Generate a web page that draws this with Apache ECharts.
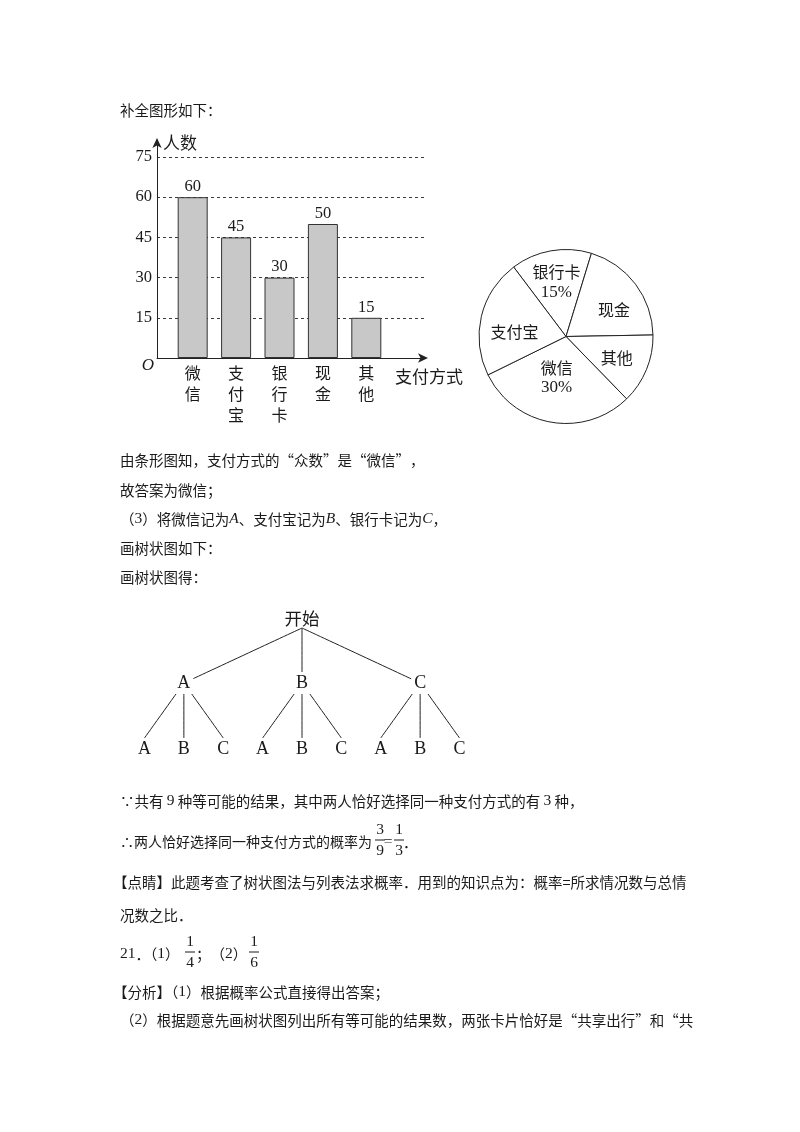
<!DOCTYPE html>
<html><head><meta charset="utf-8">
<script src="https://cdn.jsdelivr.net/npm/echarts@6/dist/echarts.min.js"></script>
<style>html,body{margin:0;padding:0;background:#fff;}#c{width:800px;height:1132px;}</style>
</head><body><div id="c"></div>
<script>
// ---- data ----
const categories = ['微信', '支付宝', '银行卡', '现金', '其他'];
const counts = [60, 45, 30, 50, 15];
const yMin = 0, yMax = 75, yStep = 15;
const pieNames = ['银行卡', '现金', '其他', '微信', '支付宝'];
const piePercents = [15, 20, 13, 30, 22];
const pieLabeled = ['银行卡', '微信'];
const treeRoot = '开始';
const firstPick = ['A', 'B', 'C'];
const secondPick = ['A', 'B', 'C'];

const CJK = '"Noto Sans CJK SC"';
const SERIF = '"Liberation Serif"';
const INK = '#1a1a1a';
const CLEAR = 'rgba(0,0,0,0)';

// small label nudges (styling only)
const pieLabelNudge = { '微信': [0, -13], '现金': [4, 7], '支付宝': [2, 8] };

// tree data (spacers keep leaves evenly spread)
function spacer() { return { name: '', symbol: 'none', label: { show: false }, lineStyle: { color: CLEAR, opacity: 0 } }; }
function leafList() {
  const arr = [];
  secondPick.forEach((n, i) => { if (i > 0) arr.push(spacer()); arr.push({ name: n }); });
  return arr;
}
function buildTree() {
  return [{
    name: treeRoot,
    label: { position: 'top', distance: 1, fontFamily: CJK, fontSize: 17.5, lineHeight: 18, backgroundColor: CLEAR, padding: 0 },
    children: firstPick.map(n => ({ name: n, children: leafList() }))
  }];
}

const RICH = {
  r: { fontFamily: SERIF, fontSize: 15.5, fill: INK },
  i: { fontFamily: SERIF, fontStyle: 'italic', fontSize: 15.5, fill: INK }
};
function txt(x, y, text, extra) {
  return { type: 'text', x: x, y: y, silent: true,
    style: Object.assign({ text: text, fontFamily: CJK, fontSize: 14.5, fill: INK, align: 'left', verticalAlign: 'middle', rich: RICH }, extra || {}) };
}
function frac(cx, cy, n, d) {
  const s = { fontFamily: SERIF, fontSize: 15.5, fill: INK, align: 'center', verticalAlign: 'middle' };
  return [
    { type: 'text', x: cx, y: cy - 10.5, silent: true, style: Object.assign({ text: n }, s) },
    { type: 'line', silent: true, shape: { x1: cx - 5, y1: cy, x2: cx + 5, y2: cy }, style: { stroke: INK, lineWidth: 1 } },
    { type: 'text', x: cx, y: cy + 10.5, silent: true, style: Object.assign({ text: d }, s) }
  ];
}

const graphics = [
  txt(120, 110, '补全图形如下：'),
  txt(163, 143, '人数', { fontSize: 17 }),
  txt(148, 366, 'O', { fontFamily: SERIF, fontStyle: 'italic', fontSize: 17, align: 'center' }),
  txt(395, 377, '支付方式', { fontSize: 17 }),
  txt(120, 460, '由条形图知，支付方式的“众数”是“微信”，'),
  txt(120, 490, '故答案为微信；'),
  txt(120, 519, '（{r|3}）将微信记为{i|A}、支付宝记为{i|B}、银行卡记为{i|C}，'),
  txt(120, 548, '画树状图如下：'),
  txt(120, 577, '画树状图得：'),
  txt(120, 801, '∵共有 {r|9} 种等可能的结果，其中两人恰好选择同一种支付方式的有 {r|3} 种，'),
  txt(120, 842, '∴两人恰好选择同一种支付方式的概率为', { fontSize: 14 }),
  ...frac(380, 840, '3', '9'),
  txt(388, 842, '=', { fontFamily: SERIF, fontSize: 15.5, align: 'center' }),
  ...frac(399, 840, '1', '3'),
  txt(403, 842, '．'),
  txt(113, 882, '【点睛】此题考查了树状图法与列表法求概率．用到的知识点为：概率=所求情况数与总情'),
  txt(120, 915, '况数之比．'),
  txt(120, 954, '{r|21}．（{r|1}）'),
  ...frac(190, 952, '1', '4'),
  txt(196, 954, '；（{r|2}）'),
  ...frac(254, 952, '1', '6'),
  txt(113, 992, '【分析】（{r|1}）根据概率公式直接得出答案；'),
  txt(120, 1020, '（{r|2}）根据题意先画树状图列出所有等可能的结果数，两张卡片恰好是“共享出行”和“共')
];

const chart = echarts.init(document.getElementById('c'), null, { renderer: 'canvas' });
chart.setOption({
  animation: false,
  grid: [
    { left: 171, top: 157, width: 217, height: 201 },
    { left: 157, top: 140, width: 268, height: 218 }
  ],
  xAxis: [
    { gridIndex: 0, type: 'category', data: categories,
      axisLine: { show: false }, axisTick: { show: false },
      axisLabel: { formatter: v => v.split('').join('\n'), fontFamily: CJK, fontSize: 16, lineHeight: 21, color: INK, margin: 4, interval: 0 } },
    { gridIndex: 1, type: 'value', min: 0, max: 1,
      axisLine: { show: true, symbol: ['none', 'arrow'], symbolSize: [7, 10], symbolOffset: [0, 3], lineStyle: { color: '#222', width: 1 } },
      axisLabel: { show: false }, axisTick: { show: false }, splitLine: { show: false } }
  ],
  yAxis: [
    { gridIndex: 0, type: 'value', min: yMin, max: yMax, interval: yStep, show: false, splitLine: { show: false } },
    { gridIndex: 1, type: 'value', min: yMin, max: 81.3, interval: yStep,
      axisLine: { show: true, symbol: ['none', 'arrow'], symbolSize: [7, 10], symbolOffset: [0, 2], lineStyle: { color: '#222', width: 1 } },
      axisTick: { show: false },
      axisLabel: { fontFamily: SERIF, fontSize: 16.5, color: INK, margin: 5, showMinLabel: false, showMaxLabel: false },
      splitLine: { show: true, showMinLine: false, showMaxLine: false, lineStyle: { type: [3, 3], color: '#3a3a3a', width: 1 } } }
  ],
  series: [
    { type: 'bar', xAxisIndex: 0, yAxisIndex: 0, data: counts, barWidth: 30, silent: true,
      itemStyle: { color: '#c8c8c8', borderColor: '#333', borderWidth: 1 },
      label: { show: true, position: 'top', distance: 2, fontFamily: SERIF, fontSize: 16.5, color: INK } },
    { type: 'pie', center: [566, 336.5], radius: [0, 87], startAngle: 127, clockwise: true, silent: true,
      data: pieNames.map((n, i) => ({ name: n, value: piePercents[i] })),
      itemStyle: { color: '#fff', borderColor: '#222', borderWidth: 1 },
      label: { show: false }, labelLine: { show: false } },
    { type: 'pie', center: [566, 336.5], radius: [17, 87], startAngle: 127, clockwise: true, silent: true, z: 3,
      data: pieNames.map((n, i) => ({ name: n, value: piePercents[i], label: { offset: pieLabelNudge[n] || [0, 0] } })),
      itemStyle: { color: CLEAR, borderWidth: 0 },
      labelLine: { show: false },
      label: { show: true, position: 'inside', color: INK, lineHeight: 20,
        formatter: p => pieLabeled.indexOf(p.name) >= 0 ? '{c|' + p.name + '}\n{n|' + p.value + '%}' : '{c|' + p.name + '}',
        rich: { c: { fontFamily: CJK, fontSize: 16, color: INK, lineHeight: 20 }, n: { fontFamily: SERIF, fontSize: 17, color: INK, lineHeight: 20 } } } },
    {
      type: 'tree', orient: 'TB', layout: 'orthogonal',
      left: 124.8, width: 354.4, top: 628, height: 110,
      symbol: 'none', symbolSize: 2, expandAndCollapse: false, roam: false,
      edgeShape: 'curve', silent: true, animation: false,
      data: buildTree(),
      lineStyle: { color: '#222', width: 1, curveness: 0 },
      label: { show: true, position: 'inside', fontFamily: SERIF, fontSize: 18, lineHeight: 18, color: INK,
        backgroundColor: '#fff', padding: [2, 3] },
      leaves: { label: { show: true, position: 'bottom', distance: 2, fontFamily: SERIF, fontSize: 18, lineHeight: 18, color: INK, backgroundColor: CLEAR, padding: 0 } }
    }
  ],
  graphic: { elements: graphics }
});
</script></body></html>
